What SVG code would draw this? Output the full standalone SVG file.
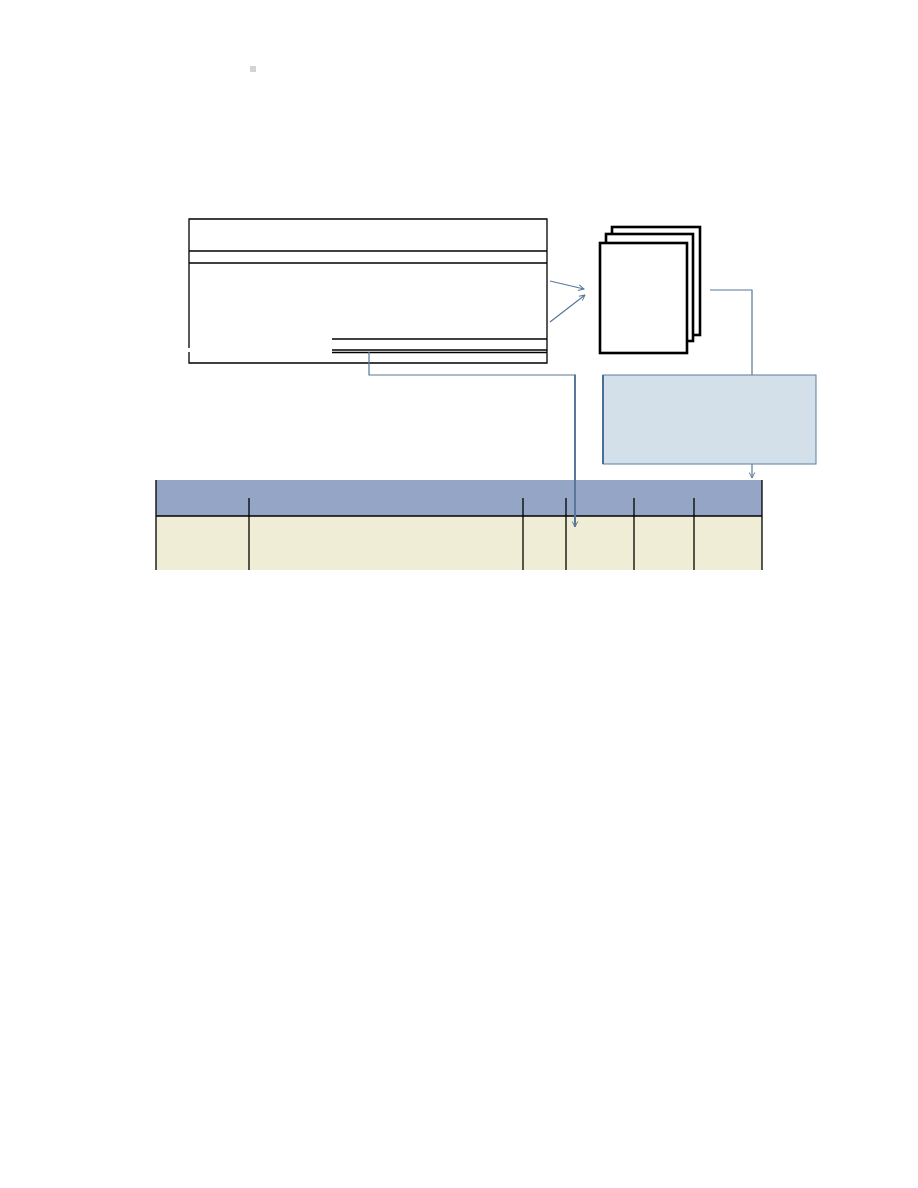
<svg xmlns="http://www.w3.org/2000/svg" width="918" height="1188" viewBox="0 0 918 1188">
<style>
.blk{fill:none;stroke:#000;stroke-width:1.3}
.page{fill:#fff;stroke:#000;stroke-width:2.6}
.con{fill:none;stroke:#57789a;stroke-width:1.2}
.sep{stroke:#000;stroke-width:1.3}
</style>
<defs>
<marker id="ah" viewBox="0 0 10 10" refX="9" refY="5" markerWidth="7" markerHeight="7" orient="auto" markerUnits="userSpaceOnUse">
<path d="M1,1 L9,5 L1,9" fill="none" stroke="#57789a" stroke-width="1.4"/>
</marker>
</defs>
<rect width="918" height="1188" fill="#fff"/>
<rect x="250" y="66" width="6" height="6" fill="#d4d4d4"/>
<g id="form">
<path class="blk" d="M189,348 V219 H547 V363 H189 V352"/>
<line class="blk" x1="189" y1="251" x2="547" y2="251"/>
<line class="blk" x1="189" y1="263" x2="547" y2="263"/>
<line class="blk" x1="332" y1="339" x2="547" y2="339"/>
<line class="blk" x1="332" y1="350" x2="547" y2="350"/>
<line class="blk" x1="332" y1="352.5" x2="547" y2="352.5"/>
</g>
<g id="documents">
<rect class="page" x="612" y="227" width="88" height="108"/>
<rect class="page" x="606" y="234" width="87" height="107"/>
<rect class="page" x="600" y="243" width="87" height="110"/>
</g>
<g id="note">
<rect x="603" y="375" width="213" height="89" fill="#d3dfe9" stroke="#5b7fa0" stroke-width="1"/>
<line x1="603" y1="375" x2="603" y2="464" stroke="#4a6f96" stroke-width="2"/>
</g>
<g id="journal">
<rect x="156" y="480" width="606" height="36" fill="#94a5c5"/>
<rect x="156" y="516" width="606" height="54" fill="#efedd5"/>
<line class="sep" x1="156" y1="516" x2="762" y2="516"/>
<line class="sep" x1="156" y1="480" x2="156" y2="570"/>
<line class="sep" x1="762" y1="480" x2="762" y2="570"/>
<line class="sep" x1="249" y1="498" x2="249" y2="570"/>
<line class="sep" x1="523" y1="498" x2="523" y2="570"/>
<line class="sep" x1="566" y1="498" x2="566" y2="570"/>
<line class="sep" x1="634" y1="498" x2="634" y2="570"/>
<line class="sep" x1="694" y1="498" x2="694" y2="570"/>
</g>
<g id="connectors">
<line class="con" x1="550" y1="281" x2="584" y2="289" marker-end="url(#ah)"/>
<line class="con" x1="550" y1="322" x2="585" y2="295" marker-end="url(#ah)"/>
<polyline class="con" points="710,290 752,290 752,375"/>
<line class="con" x1="752" y1="464" x2="752" y2="478" marker-end="url(#ah)"/>
<polyline class="con" points="369,352 369,375 575,375"/>
<line x1="575" y1="374.4" x2="575" y2="527" stroke="#57789a" stroke-width="2" marker-end="url(#ah)"/>
</g>
</svg>
